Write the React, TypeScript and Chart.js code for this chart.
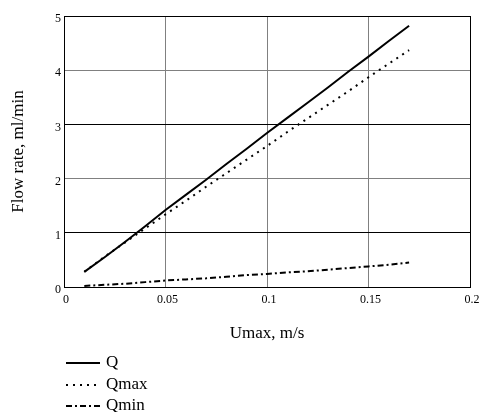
import React, { useEffect, useRef } from "react";
import { Chart, registerables } from "chart.js";

Chart.register(...registerables);

const umax = [0.01, 0.02, 0.03, 0.04, 0.05, 0.06, 0.07, 0.08, 0.09, 0.1, 0.11, 0.12, 0.13, 0.14, 0.15, 0.16, 0.17];
const qValues = [0.28, 0.55, 0.83, 1.12, 1.42, 1.7, 1.98, 2.27, 2.55, 2.84, 3.12, 3.4, 3.68, 3.97, 4.25, 4.54, 4.82];
const qmaxValues = [0.28, 0.56, 0.82, 1.08, 1.34, 1.59, 1.85, 2.1, 2.35, 2.6, 2.86, 3.11, 3.36, 3.61, 3.87, 4.12, 4.37];
const qminValues = [0.02, 0.04, 0.06, 0.09, 0.12, 0.14, 0.16, 0.19, 0.22, 0.24, 0.27, 0.29, 0.32, 0.35, 0.38, 0.41, 0.45];
const xTickLabels = ["0", "0.05", "0.1", "0.15", "0.2"];
const seriesLabels = ["Q", "Qmax", "Qmin"];
const xTitle = "Umax, m/s";
const yTitle = "Flow rate, ml/min";

const FONT = "'Liberation Serif', 'DejaVu Serif', serif";

const legendPlugin = {
  id: "customLegend",
  afterDraw(chart: any) {
    const ctx = chart.ctx;
    ctx.save();
    const ys = [363, 385, 406];
    chart.data.datasets.forEach((ds: any, i: number) => {
      const y = ys[i];
      ctx.beginPath();
      ctx.setLineDash(ds.borderDash || []);
      ctx.lineWidth = 2;
      ctx.strokeStyle = "#000";
      ctx.moveTo(66, y);
      ctx.lineTo(100, y);
      ctx.stroke();
      ctx.setLineDash([]);
      ctx.fillStyle = "#000";
      ctx.font = "17px " + FONT;
      ctx.textBaseline = "middle";
      ctx.textAlign = "left";
      ctx.fillText(ds.label, 106, y);
    });
    ctx.restore();
  },
};

export default function App() {
  const ref = useRef<HTMLCanvasElement>(null);
  useEffect(() => {
    const mk = (vals: number[]) => umax.map((x, i) => ({ x, y: vals[i] }));
    const chart = new Chart(ref.current!, {
      type: "line",
      data: {
        datasets: [
          { label: seriesLabels[0], data: mk(qValues), borderColor: "#000", borderWidth: 2, pointRadius: 0, borderDash: [] },
          { label: seriesLabels[1], data: mk(qmaxValues), borderColor: "#000", borderWidth: 2, pointRadius: 0, borderDash: [2, 5] },
          { label: seriesLabels[2], data: mk(qminValues), borderColor: "#000", borderWidth: 2, pointRadius: 0, borderDash: [6, 3, 2, 3] },
        ],
      },
      options: {
        animation: false,
        responsive: false,
        layout: { padding: { left: 0, right: 10, top: 16, bottom: 64 } },
        plugins: { legend: { display: false }, tooltip: { enabled: false } },
        scales: {
          x: {
            type: "linear",
            min: 0,
            max: 0.2,
            ticks: {
              stepSize: 0.05,
              color: "#000",
              font: { family: FONT, size: 12 },
              padding: 6,
              maxRotation: 0,
              labelOffset: 2,
              callback: (_v: any, i: number) => xTickLabels[i],
            },
            grid: {
              drawTicks: false,
              color: (c: any) => (c.tick && (c.tick.value === 0 || Math.abs(c.tick.value - 0.2) < 1e-9) ? "#000" : "#808080"),
              lineWidth: 1,
            },
            border: { display: true, color: "#000", width: 1 },
            title: { display: true, text: xTitle, color: "#000", font: { family: FONT, size: 17 }, padding: { top: 4, bottom: 4 } },
            afterFit: (s: any) => { s.height = 61; s.paddingLeft = 0; s.paddingRight = 0; },
          },
          y: {
            type: "linear",
            min: 0,
            max: 5,
            ticks: { stepSize: 1, color: "#000", font: { family: FONT, size: 12 }, padding: 3, labelOffset: 3 },
            grid: {
              drawTicks: false,
              color: (c: any) => (c.tick && (c.tick.value === 2 || c.tick.value === 4) ? "#808080" : "#000"),
              lineWidth: 1,
            },
            border: { display: true, color: "#000", width: 1 },
            title: { display: true, text: yTitle, color: "#000", font: { family: FONT, size: 17 }, padding: { top: 8, bottom: 4 } },
            afterFit: (s: any) => { s.width = 64; s.paddingTop = 0; s.paddingBottom = 0; },
          },
        },
      },
      plugins: [legendPlugin],
    } as any);
    return () => chart.destroy();
  }, []);
  return (
    <div style={{ position: "absolute", left: 0, top: 0, width: 480, height: 412, background: "#fff" }}>
      <canvas ref={ref} width={480} height={412} style={{ display: "block" }} />
    </div>
  );
}
